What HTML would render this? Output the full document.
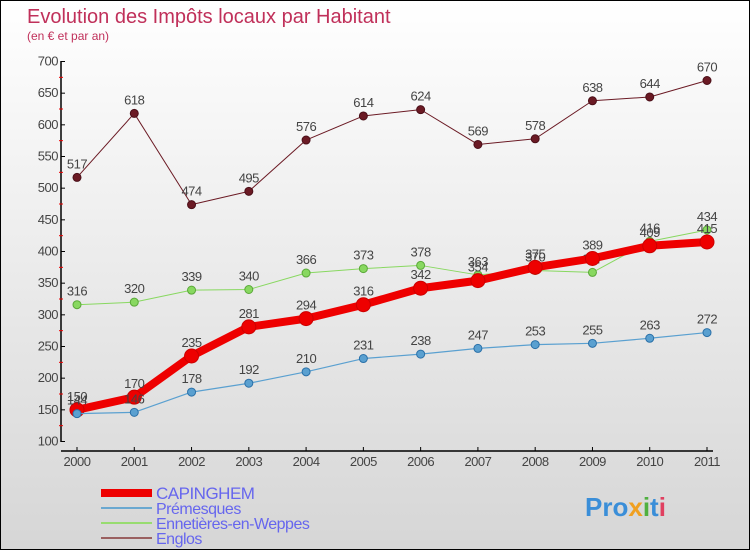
<!DOCTYPE html>
<html><head><meta charset="utf-8"><style>
body{margin:0}
#c{width:750px;height:550px;position:relative;box-sizing:border-box;border:1px solid #000;background:linear-gradient(#fff,#d6d6d6);font-family:"Liberation Sans",sans-serif;overflow:hidden}
text{font-family:"Liberation Sans",sans-serif}
</style></head><body>
<div id="c">
<svg id="s" width="750" height="550">
<text x="26" y="22" font-size="20" fill="#c0305a">Evolution des Impôts locaux par Habitant</text>
<text x="26" y="39" font-size="12" fill="#c0305a">(en € et par an)</text>
<g id="g"></g>
</svg>
</div>
<script>
const years=["2000","2001","2002","2003","2004","2005","2006","2007","2008","2009","2010","2011"];
const yTicks=[100,150,200,250,300,350,400,450,500,550,600,650,700];
const capinghem=[150,170,235,281,294,316,342,354,375,389,409,415];
const premesques=[144,146,178,192,210,231,238,247,253,255,263,272];
const ennetieres=[316,320,339,340,366,373,378,363,370,367,416,434];
const englos=[517,618,474,495,576,614,624,569,578,638,644,670];
const NS="http://www.w3.org/2000/svg";
const g=document.getElementById('g');
const X=i=>76+i*(630/11);
const Y=v=>440.5-(v-100)*(380/600);
function mk(t,a,p){const e=document.createElementNS(NS,t);for(const k in a)e.setAttribute(k,a[k]);(p||g).appendChild(e);return e;}
let ax=mk('line',{x1:60,y1:60,x2:60,y2:441,stroke:'#000','stroke-width':1.5});


let xa=mk('line',{x1:60,y1:450,x2:712,y2:450,stroke:'#000','stroke-width':1.5});


yTicks.forEach((v,i)=>{
 mk('line',{x1:60,y1:Y(v),x2:64,y2:Y(v),stroke:'#000'});
 if(i<yTicks.length-1)mk('line',{x1:58,y1:Y(v+25),x2:62,y2:Y(v+25),stroke:'#e00'});
 const t=mk('text',{x:57,y:Y(v)+4,'font-size':13,fill:'#444','text-anchor':'end','letter-spacing':'-0.5'});
 t.textContent=v;
 
 
});
years.forEach((y,i)=>{
 mk('line',{x1:X(i),y1:446,x2:X(i),y2:450,stroke:'#000'});
 const t=mk('text',{x:X(i),y:465,'font-size':13,fill:'#444','text-anchor':'middle','letter-spacing':'-0.5'});
 t.textContent=y;
 
 
});
function series(d,col,w,r,name,stroke){
 const grp=mk('g',{});
 
 
 mk('polyline',{points:d.map((v,i)=>X(i)+','+Y(v)).join(' '),fill:'none',stroke:col,'stroke-width':w,'stroke-linejoin':'round'},grp);
 d.forEach((v,i)=>{
  const c=mk('circle',{cx:X(i),cy:Y(v),r:r,fill:col,stroke:stroke,'stroke-width':1},grp);
  
  
  const t=mk('text',{x:X(i),y:Y(v)-9,'font-size':13,fill:'#444','text-anchor':'middle','letter-spacing':'-0.5'},grp);
  t.textContent=v;
  
  
 });
}
series(englos,'#6b1a24',1,4,'englos-series','#4a0f18');
series(ennetieres,'#88d860',1,4,'ennetieres-series','#5aa838');
series(capinghem,'#ee0000',8,7,'capinghem-series','#cc0000');
series(premesques,'#5aa0d0',1.2,4,'premesques-series','#2a70a8');
const leg=[["CAPINGHEM","#ee0000",8],["Prémesques","#6aa8d0",2],["Ennetières-en-Weppes","#98dc70",2],["Englos","#9a6060",2]];
leg.forEach((l,i)=>{
 const y=492+i*15;
 const ln=mk('line',{x1:100,y1:y,x2:151,y2:y,stroke:l[1],'stroke-width':l[2]});
 
 
 const t=mk('text',{x:155,y:y+6,'font-size':i==0?17:16,fill:'#6666ee','letter-spacing':'-0.5'});
 t.textContent=l[0];
 
 
});
const lg=mk('text',{x:584,y:515,'font-size':26,'font-weight':'bold',fill:'#3a8ed8'});
lg.innerHTML='Pro<tspan fill="#f0a020">x</tspan><tspan fill="#50b040">i</tspan>t<tspan fill="#e04060">i</tspan>';


</script>
</body></html>
